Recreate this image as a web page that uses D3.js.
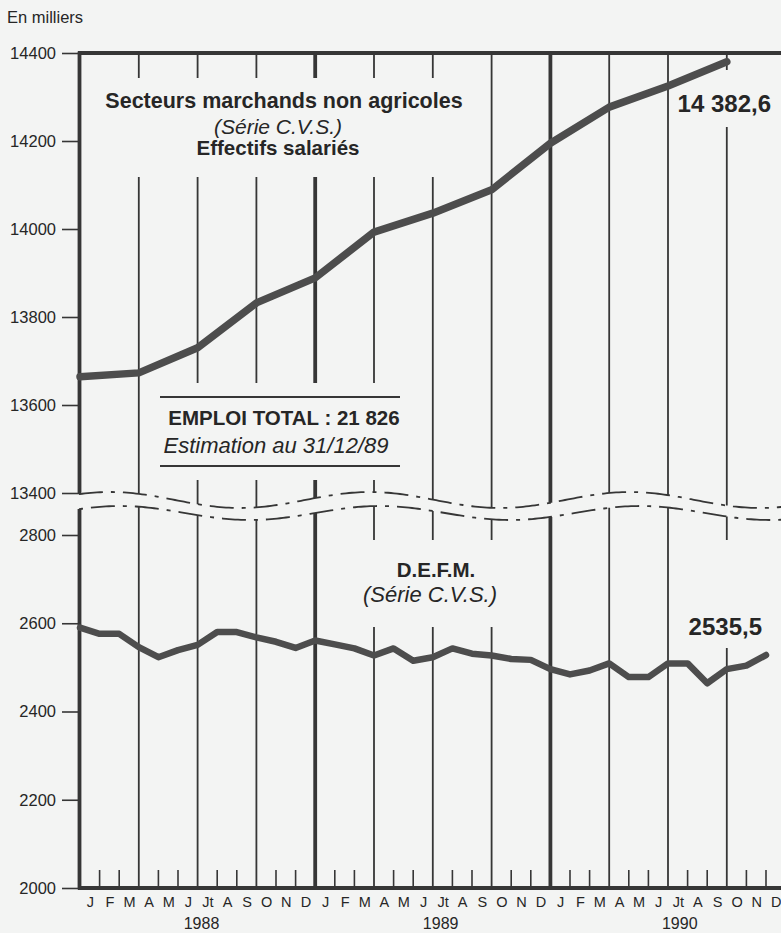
<!DOCTYPE html>
<html>
<head>
<meta charset="utf-8">
<script src="https://cdn.jsdelivr.net/npm/d3@7"></script>
<style>
  body { margin: 0; background: #f3f4f3; }
  svg { display: block; font-family: "Liberation Sans", Arial, Helvetica, sans-serif; }
</style>
</head>
<body>
<div id="chart"></div>
<script>
// Secteurs marchands non agricoles, effectifs salariés (quarterly, thousands)
const quarterIndex = [0, 3, 6, 9, 12, 15, 18, 21, 24, 27, 30, 33];
const salariesValues = [13664, 13673, 13730, 13832, 13889, 13993, 14036, 14089, 14195, 14277, 14325, 14380];

// D.E.F.M. (monthly, thousands)
const defmValues = [
  2590, 2576, 2576, 2546, 2523, 2539, 2551, 2580, 2580, 2568, 2558, 2544,
  2561, 2552, 2543, 2527, 2543, 2515, 2523, 2543, 2531, 2527, 2519, 2517,
  2496, 2484, 2493, 2509, 2478, 2478, 2509, 2509, 2464, 2496, 2504, 2528
];

const monthLabels = ['J', 'F', 'M', 'A', 'M', 'J', 'Jt', 'A', 'S', 'O', 'N', 'D'];
const years = ['1988', '1989', '1990'];
const topTicks = [13400, 13600, 13800, 14000, 14200, 14400];
const bottomTicks = [2000, 2200, 2400, 2600, 2800];

const width = 781, height = 933;
const bg = '#f3f4f3';
const ink = '#262626';
const lineInk = '#363636';
const seriesInk = '#4d4d4d';

const svg = d3.select('#chart').append('svg')
  .attr('width', width)
  .attr('height', height);

svg.append('rect').attr('width', width).attr('height', height).attr('fill', bg);

// scales
const x = d3.scaleLinear().domain([0, 36]).range([80, 785.6]);
const yTop = d3.scaleLinear().domain([13400, 14400]).range([493, 53]);
const yBot = d3.scaleLinear().domain([2000, 2800]).range([888, 535]);

// break waves (decoration)
const waveUp = px => 500 - 8 * Math.cos(2 * Math.PI * (px - 110) / 260);
const waveLo = px => 513 - 7 * Math.cos(2 * Math.PI * (px - 120) / 260);

// quarter / year vertical lines
const grid = svg.append('g').attr('stroke', lineInk);
d3.range(3, 36, 3).forEach(k => {
  const px = x(k);
  const w = (k % 12 === 0) ? 3.8 : 1.8;
  grid.append('line').attr('x1', px).attr('x2', px).attr('y1', 53).attr('y2', waveUp(px)).attr('stroke-width', w);
  grid.append('line').attr('x1', px).attr('x2', px).attr('y1', waveLo(px)).attr('y2', 888).attr('stroke-width', w);
});

// small month ticks
d3.range(1, 36).filter(k => k % 3 !== 0).forEach(k => {
  grid.append('line').attr('x1', x(k)).attr('x2', x(k)).attr('y1', 870).attr('y2', 888).attr('stroke-width', 1.6);
});

// knockouts behind the text blocks
const knock = svg.append('g').attr('fill', bg);
[[100, 78, 372, 99], [672, 70, 105, 57], [158, 383, 250, 97], [355, 540, 150, 87], [680, 540, 95, 108]]
  .forEach(r => knock.append('rect').attr('x', r[0]).attr('y', r[1]).attr('width', r[2]).attr('height', r[3]));

// waves
const waveLine = d3.line().curve(d3.curveBasis);
const xs = d3.range(79, 792, 3);
svg.append('path')
  .attr('d', waveLine(xs.map(px => [px, waveUp(px)])))
  .attr('fill', 'none').attr('stroke', lineInk).attr('stroke-width', 1.8)
  .attr('stroke-dasharray', '24,8,4,8');
svg.append('path')
  .attr('d', waveLine(xs.map(px => [px, waveLo(px)])))
  .attr('fill', 'none').attr('stroke', lineInk).attr('stroke-width', 1.8)
  .attr('stroke-dasharray', '4,8,24,8');

// frame
const frame = svg.append('g').attr('stroke', lineInk).attr('fill', 'none');
frame.append('line').attr('x1', 78).attr('x2', width).attr('y1', 53).attr('y2', 53).attr('stroke-width', 3.8);
frame.append('line').attr('x1', 79.5).attr('x2', 79.5).attr('y1', 51.5).attr('y2', waveUp(80)).attr('stroke-width', 3.8);
frame.append('line').attr('x1', 79.5).attr('x2', 79.5).attr('y1', waveLo(80)).attr('y2', 889.5).attr('stroke-width', 3.8);
frame.append('line').attr('x1', 78).attr('x2', width).attr('y1', 888).attr('y2', 888).attr('stroke-width', 3.8);

// y axes
function styleAxis(g) {
  g.select('.domain').remove();
  g.selectAll('.tick line').attr('stroke', lineInk).attr('stroke-width', 1.6);
  g.selectAll('.tick text').attr('fill', ink).style('font-size', '16.5px').attr('font-family', null);
}
svg.append('g').attr('transform', 'translate(79,0)')
  .call(d3.axisLeft(yTop).tickValues(topTicks).tickSize(17).tickPadding(6).tickFormat(d3.format('d')))
  .call(styleAxis);
svg.append('g').attr('transform', 'translate(79,0)')
  .call(d3.axisLeft(yBot).tickValues(bottomTicks).tickSize(17).tickPadding(6).tickFormat(d3.format('d')))
  .call(styleAxis);

// month labels
const months = d3.range(36);
const xAxis = svg.append('g').attr('transform', 'translate(0,891)')
  .call(d3.axisBottom(x).tickValues(months.map(m => m + 0.5)).tickSize(0).tickPadding(6)
    .tickFormat((d, i) => monthLabels[i % 12]));
xAxis.select('.domain').remove();
xAxis.selectAll('.tick text').attr('fill', ink).style('font-size', '14.5px').attr('font-family', null);

svg.append('g').selectAll('text').data(years).join('text')
  .attr('x', (d, i) => x(6.2 + i * 12.2))
  .attr('y', 929)
  .attr('text-anchor', 'middle')
  .attr('fill', ink)
  .style('font-size', '16px')
  .text(d => d);

// data lines
svg.append('path')
  .datum(salariesValues)
  .attr('fill', 'none')
  .attr('stroke', seriesInk)
  .attr('stroke-width', 7.5)
  .attr('stroke-linejoin', 'round')
  .attr('stroke-linecap', 'round')
  .attr('d', d3.line().x((d, i) => x(quarterIndex[i])).y(d => yTop(d)));

svg.append('path')
  .datum(defmValues)
  .attr('fill', 'none')
  .attr('stroke', seriesInk)
  .attr('stroke-width', 6.5)
  .attr('stroke-linejoin', 'round')
  .attr('stroke-linecap', 'round')
  .attr('d', d3.line().x((d, i) => x(i)).y(d => yBot(d)));

// annotations
const label = (tx, ty, txt, size, opts = {}) => svg.append('text')
  .attr('x', tx).attr('y', ty)
  .attr('text-anchor', opts.anchor || 'middle')
  .attr('fill', ink)
  .style('font-size', size + 'px')
  .style('font-weight', opts.bold ? 'bold' : 'normal')
  .style('font-style', opts.italic ? 'italic' : 'normal')
  .text(txt);

svg.append('text').attr('x', 7).attr('y', 23).attr('fill', ink).style('font-size', '16.5px').text('En milliers');

label(284, 108, 'Secteurs marchands non agricoles', 21.5, { bold: true });
label(278, 133.5, '(Série C.V.S.)', 21, { italic: true });
label(278, 155, 'Effectifs salariés', 20.5, { bold: true });
label(771, 112, '14 382,6', 24, { bold: true, anchor: 'end' });

svg.append('line').attr('x1', 160).attr('x2', 400).attr('y1', 397).attr('y2', 397).attr('stroke', lineInk).attr('stroke-width', 1.8);
label(284, 425, 'EMPLOI TOTAL : 21 826', 20.5, { bold: true });
label(276, 453, 'Estimation au 31/12/89', 22, { italic: true });
svg.append('line').attr('x1', 160).attr('x2', 400).attr('y1', 466).attr('y2', 466).attr('stroke', lineInk).attr('stroke-width', 1.8);

label(436, 577, 'D.E.F.M.', 20.5, { bold: true });
label(430, 602, '(Série C.V.S.)', 22, { italic: true });
label(762, 635, '2535,5', 24, { bold: true, anchor: 'end' });
</script>
</body>
</html>
